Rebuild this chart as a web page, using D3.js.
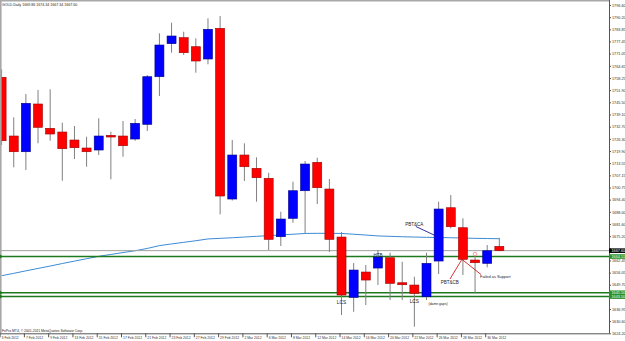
<!DOCTYPE html>
<html><head><meta charset="utf-8">
<script src="https://cdn.jsdelivr.net/npm/d3@7"></script>
<style>html,body{margin:0;padding:0;background:#fff;}svg{display:block;font-family:"Liberation Sans",Arial,sans-serif;}</style>
</head><body>
<script>
// ---------- DATA ----------
const dates = ["3 Feb 2012","6 Feb 2012","7 Feb 2012","8 Feb 2012","9 Feb 2012","10 Feb 2012",
"13 Feb 2012","14 Feb 2012","15 Feb 2012","16 Feb 2012","17 Feb 2012",
"20 Feb 2012","21 Feb 2012","22 Feb 2012","23 Feb 2012","24 Feb 2012",
"27 Feb 2012","28 Feb 2012","29 Feb 2012","1 Mar 2012","2 Mar 2012",
"5 Mar 2012","6 Mar 2012","7 Mar 2012","8 Mar 2012","9 Mar 2012",
"12 Mar 2012","13 Mar 2012","14 Mar 2012","15 Mar 2012","16 Mar 2012",
"19 Mar 2012","20 Mar 2012","21 Mar 2012","22 Mar 2012","23 Mar 2012",
"26 Mar 2012","27 Mar 2012","28 Mar 2012","29 Mar 2012","30 Mar 2012","2 Apr 2012"];
const opens  = [1758.63,1727.80,1719.55,1744.61,1731.84,1729.90,1725.70,1721.50,1720.45,1728.17,1727.80,1726.22,1733.94,1758.94,1776.28,1779.43,1774.70,1768.24,1784.36,1694.71,1717.82,1710.83,1705.58,1674.91,1684.57,1699.07,1713.99,1699.96,1674.75,1643.08,1656.37,1658.47,1663.87,1650.75,1649.54,1643.40,1662.15,1690.14,1679.64,1662.68,1660.94,1669.86];
const highs  = [1762.83,1737.62,1749.86,1751.96,1752.33,1734.78,1733.05,1727.43,1737.09,1730.06,1735.67,1736.73,1759.83,1781.74,1787.30,1782.58,1779.11,1789.61,1790.82,1725.70,1723.97,1716.61,1708.52,1688.04,1703.80,1714.67,1716.40,1705.22,1677.38,1661.10,1660.05,1667.90,1666.51,1661.78,1653.90,1666.51,1693.29,1696.81,1684.57,1664.78,1670.55,1674.34];
const lows   = [1723.07,1711.36,1709.94,1723.97,1725.33,1704.32,1715.72,1711.67,1717.82,1705.06,1716.93,1725.33,1730.42,1748.81,1771.55,1770.34,1761.04,1765.46,1686.67,1693.92,1704.17,1693.29,1667.90,1670.03,1682.26,1676.70,1692.08,1666.88,1633.79,1635.52,1639.04,1649.54,1641.67,1641.67,1627.64,1641.67,1655.32,1679.32,1654.79,1645.18,1658.84,1667.34];
const closes = [1725.33,1719.55,1744.97,1732.37,1728.85,1721.13,1721.65,1719.55,1727.80,1727.27,1722.70,1734.47,1758.94,1775.59,1780.32,1771.55,1767.19,1783.84,1696.29,1717.82,1711.67,1705.90,1673.54,1684.21,1699.07,1713.09,1700.65,1673.54,1644.29,1657.42,1652.17,1664.24,1650.43,1649.70,1645.18,1660.94,1689.46,1680.16,1663.04,1661.26,1667.56,1667.60];
const maValues = [1654.43,1655.69,1657.00,1658.26,1659.52,1660.84,1662.10,1663.36,1664.62,1665.61,1666.61,1667.56,1668.77,1670.24,1671.13,1671.97,1672.81,1673.75,1674.07,1674.38,1674.75,1675.12,1675.49,1675.86,1676.22,1676.64,1676.70,1676.70,1676.64,1676.22,1675.80,1675.33,1675.12,1674.91,1674.75,1674.60,1674.49,1674.38,1674.23,1674.07,1673.96,1673.86];
const priceTickLabels = ["1796.60","1790.20","1783.85","1777.45","1771.05","1764.65","1758.25","1751.90","1745.50","1739.10","1732.70","1726.30","1719.90","1713.55","1707.15","1700.75","1694.40","1688.00","1681.60","1675.20","1668.85","1662.45","1656.05","1649.70","1643.30","1636.95","1630.60","1624.20"];
const hiddenTick = "1668.85"; // covered by the current-price box in the reference
const supportLevels = [1664.51, 1645.50, 1643.50];
const bidPrice = 1667.60;
const titleText = "GOLD,Daily  1669.86 1674.34 1667.34 1667.60";
const copyrightText = "FxPro MT4, \u00A9 2001-2011 MetaQuotes Software Corp.";
// annotations: anchored to a bar (date index) and a price
const notes = [
  {t:"LCS", i:28, p:1639.83, anchor:"middle", size:4.8, dx:0},
  {t:"LCS", i:34, p:1640.36, anchor:"middle", size:4.8, dx:0},
  {t:"(damn gaps)", i:35, p:1639.04, anchor:"start", size:3.4, dx:2},
  {t:"HTB", i:31, p:1664.51, anchor:"middle", size:4.5, dx:0},
  {t:"PBT&CA", i:34, p:1680.53, anchor:"middle", size:4.5, dx:0},
  {t:"PBT&CB", i:37, p:1650.33, anchor:"middle", size:4.5, dx:-1},
  {t:"Failed as Support", i:39, p:1653.2, anchor:"start", size:3.9, dx:5}
];
const noteLines = [
  {i1:34, dx1:1.5, p1:1680.27, i2:36, dx2:-4.5, p2:1675.8, c:"#000080"},
  {i1:37, dx1:-0.8, p1:1652.69, i2:38, dx2:-1, p2:1663.04, c:"#d00000"},
  {i1:39, dx1:6, p1:1655.06, i2:38, dx2:-1, p2:1663.04, c:"#d00000"}
];
const marker = {i:39, p:1665.83};

// ---------- LAYOUT ----------
const W = 625, H = 341;
const plotRight = 609, plotBottom = 333.3;
const svg = d3.select("body").append("svg").attr("width", W).attr("height", H);
svg.append("rect").attr("width", W).attr("height", H).attr("fill", "#fff");

const x = d3.scalePoint().domain(dates).range([1.6, 499.34]);
const y = d3.scaleLinear().domain([1624.20, 1796.60]).range([plotBottom, 5]);
const bodyW = 9;

svg.append("clipPath").attr("id","clip").append("rect").attr("x",0).attr("y",0).attr("width",plotRight).attr("height",plotBottom);
const plot = svg.append("g").attr("clip-path","url(#clip)");

// borders
svg.append("line").attr("x1",0).attr("x2",plotRight).attr("y1",0.8).attr("y2",0.8).attr("stroke","#a8a8a8").attr("stroke-width",1.6);
svg.append("line").attr("x1",0.8).attr("x2",0.8).attr("y1",0).attr("y2",plotBottom).attr("stroke","#a8a8a8").attr("stroke-width",1.6);

// moving average
const ma = d3.line().x((d,i)=>x(dates[i])).y(d=>y(d));
plot.append("path").attr("d", ma(maValues)).attr("fill","none").attr("stroke","#3d8bd4").attr("stroke-width",1);

// bid line
plot.append("line").attr("x1",0).attr("x2",plotRight).attr("y1",y(bidPrice)).attr("y2",y(bidPrice)).attr("stroke","#a0a0a0").attr("stroke-width",1);

// support lines
supportLevels.forEach(p=>{
  plot.append("line").attr("x1",0).attr("x2",plotRight).attr("y1",y(p)).attr("y2",y(p)).attr("stroke","#1f7a1f").attr("stroke-width",1.4);
  svg.append("path").attr("d",`M0,${y(p)-2}L3,${y(p)}L0,${y(p)+2}Z`).attr("fill","#1f7a1f");
});

// candles
const candles = plot.selectAll("g.c").data(dates).join("g");
candles.append("line")
  .attr("x1",d=>x(d)).attr("x2",d=>x(d))
  .attr("y1",(d,i)=>y(highs[i])).attr("y2",(d,i)=>y(lows[i]))
  .attr("stroke","#808080").attr("stroke-width",1);
candles.append("rect")
  .attr("x",d=>x(d)-bodyW/2).attr("width",bodyW)
  .attr("y",(d,i)=>y(Math.max(opens[i],closes[i])))
  .attr("height",(d,i)=>Math.max(1.2, Math.abs(y(opens[i])-y(closes[i]))))
  .attr("fill",(d,i)=>closes[i]>=opens[i]?"#0000ff":"#ff0000")
  .attr("stroke",(d,i)=>closes[i]>=opens[i]?"#00008a":"#a00000")
  .attr("stroke-width",0.6);

// annotation lines & text
noteLines.forEach(l=>{
  plot.append("line").attr("x1",x(dates[l.i1])+l.dx1).attr("y1",y(l.p1))
    .attr("x2",x(dates[l.i2])+l.dx2).attr("y2",y(l.p2)).attr("stroke",l.c).attr("stroke-width",0.8);
});
plot.append("circle").attr("cx",x(dates[marker.i])).attr("cy",y(marker.p)).attr("r",1.8)
  .attr("fill","none").attr("stroke","#f08080").attr("stroke-width",0.8);
notes.forEach(n=>{
  plot.append("text").attr("x",x(dates[n.i])+n.dx).attr("y",y(n.p)).attr("text-anchor",n.anchor)
    .attr("font-size",n.size).attr("fill","#222").text(n.t);
});

// title & copyright
svg.append("text").attr("x",2).attr("y",6).attr("font-size",3.6).attr("fill","#222").text(titleText);
svg.append("text").attr("x",2).attr("y",331.5).attr("font-size",3.4).attr("fill","#222").text(copyrightText);

// right axis
const yAxis = d3.axisRight(y)
  .tickValues(priceTickLabels.map(Number))
  .tickFormat((d,i)=>priceTickLabels[i]===hiddenTick?"":priceTickLabels[i]).tickSize(2).tickPadding(1);
const gy = svg.append("g").attr("transform",`translate(${plotRight},0)`).call(yAxis);
gy.select(".domain").attr("d",`M0.5,0V${plotBottom}`).attr("stroke","#555");
gy.selectAll("text").attr("font-size",3.8).attr("fill","#333").attr("font-family","Liberation Sans, Arial, sans-serif");
gy.selectAll("line").attr("stroke","#555");

// price boxes on axis
function axisBox(p, fill, txtColor, label){
  const g = svg.append("g").attr("transform",`translate(${plotRight},${y(p)})`);
  g.append("rect").attr("x",0).attr("y",-2.3).attr("width",W-plotRight).attr("height",4.6).attr("fill",fill);
  g.append("text").attr("x",2.5).attr("y",0).attr("dy","0.35em").attr("font-size",3.8).attr("fill",txtColor).text(label);
}
supportLevels.forEach(p=>axisBox(p,"#2f8f2f","#e6ffe6",p.toFixed(2)));
axisBox(bidPrice,"#000","#fff",bidPrice.toFixed(2));

// bottom axis
const xAxis = d3.axisBottom(x)
  .tickValues(dates.filter((d,i)=>i%2===0 && i<=40))
  .tickSize(4).tickPadding(0);
const gx = svg.append("g").attr("transform",`translate(0,${plotBottom})`).call(xAxis);
gx.select(".domain").attr("d",`M0,0.5H${plotRight}`).attr("stroke","#555");
gx.selectAll(".tick line").attr("x1",-2).attr("x2",-2).attr("stroke","#555");
gx.selectAll(".tick text").attr("text-anchor","start").attr("x",-0.5).attr("y",3).attr("dy","0.71em")
  .attr("font-size",3.4).attr("fill","#333").attr("font-family","Liberation Sans, Arial, sans-serif");
</script>
</body></html>
